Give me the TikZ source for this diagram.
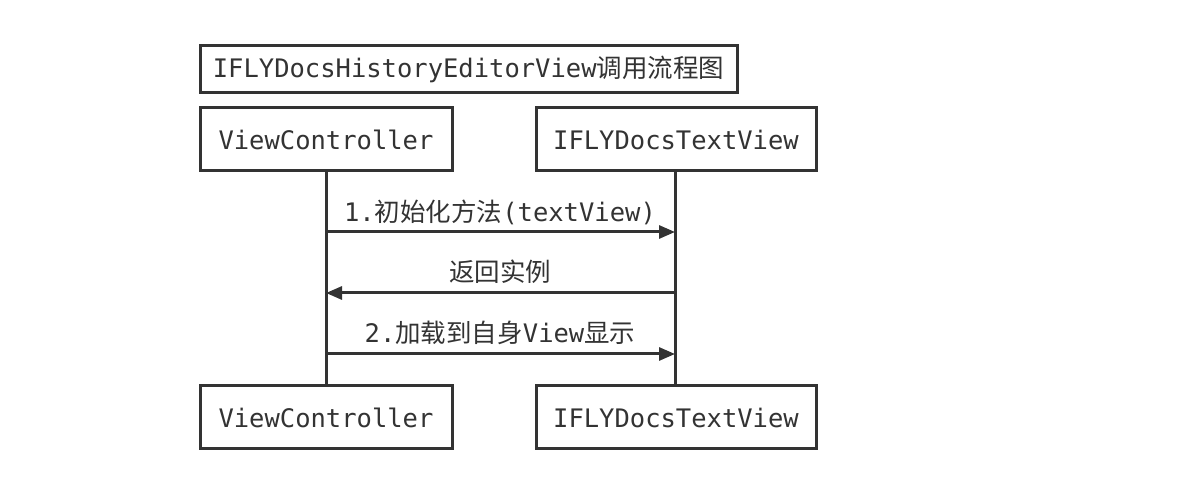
\documentclass[tikz,border=0pt]{standalone}
\usepackage{fontspec}
\setmonofont{DejaVu Sans Mono}
\newfontfamily\cjk{Noto Sans CJK SC}
\usetikzlibrary{arrows.meta}
\definecolor{ink}{HTML}{333333}
\tikzset{
  box/.style={draw=ink, line width=3pt, fill=white, text=ink, inner sep=0pt, font=\ttfamily\fontsize{25.5}{30}\selectfont},
  life/.style={draw=ink, line width=3pt},
  msg/.style={draw=ink, line width=3pt, -{Triangle[length=16pt,width=13pt]}},
  lbl/.style={text=ink, inner sep=0pt, font=\ttfamily\fontsize{25.5}{30}\selectfont}
}
\begin{document}
\begin{tikzpicture}[x=1pt,y=-1pt]
\useasboundingbox (0,0) rectangle (1200,502);
% lifelines
\draw[life] (326,171) -- (326,386);
\draw[life] (675,171) -- (675,386);
% title
\node[box, minimum width=537pt, minimum height=47pt] (title) at (468.5,69.5) {IFLYDocsHistoryEditorView{\cjk 调用流程图}};
\node[box, minimum width=252pt, minimum height=63pt] (vc1) at (326,139.5) {ViewController};
\node[box, minimum width=280pt, minimum height=63pt] (tv1) at (676,139.5) {IFLYDocsTextView};
\node[box, minimum width=252pt, minimum height=63pt] (vc2) at (326,417.5) {ViewController};
\node[box, minimum width=280pt, minimum height=63pt] (tv2) at (676,417.5) {IFLYDocsTextView};
\coordinate (a1s) at (326,232); \coordinate (a1e) at (675,232);
\coordinate (a2s) at (675,293); \coordinate (a2e) at (326,293);
\coordinate (a3s) at (326,354); \coordinate (a3e) at (675,354);
\draw[msg] (a1s) -- (a1e);
\draw[msg] (a2s) -- (a2e);
\draw[msg] (a3s) -- (a3e);
\node[lbl] (l1) at (500,212) {1.{\cjk 初始化方法}(textView)};
\node[lbl] (l2) at (500,272) {{\cjk 返回实例}};
\node[lbl] (l3) at (500,333) {2.{\cjk 加载到自身}View{\cjk 显示}};
\end{tikzpicture}
\end{document}
